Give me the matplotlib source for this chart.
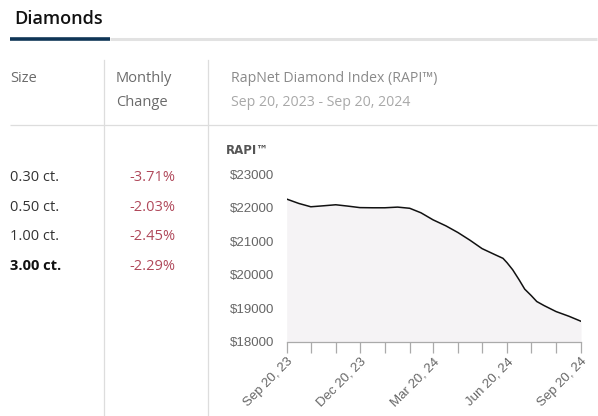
import numpy as np
import matplotlib
matplotlib.use("Agg")
import matplotlib.pyplot as plt
import matplotlib.dates as mdates
from matplotlib.lines import Line2D

# data
sizes = ["0.30 ct.", "0.50 ct.", "1.00 ct.", "3.00 ct."]
monthly_change = ["-3.71%", "-2.03%", "-2.45%", "-2.29%"]

rapi_dates = ["2023-09-20", "2023-10-05", "2023-10-20", "2023-11-05", "2023-11-20",
              "2023-12-05", "2023-12-20", "2024-01-05", "2024-01-20", "2024-02-05",
              "2024-02-20", "2024-03-05", "2024-03-20", "2024-04-05", "2024-04-20",
              "2024-05-05", "2024-05-20", "2024-06-05", "2024-06-15", "2024-06-20",
              "2024-06-27", "2024-07-05", "2024-07-12", "2024-07-20", "2024-07-27",
              "2024-08-05", "2024-08-20", "2024-09-05", "2024-09-20"]
rapi_values = [22260, 22130, 22030, 22060, 22090,
               22050, 22005, 22000, 22000, 22020,
               21985, 21850, 21640, 21460, 21260,
               21030, 20780, 20600, 20490, 20360,
               20150, 19850, 19570, 19380, 19200,
               19080, 18900, 18760, 18610]

tick_dates = ["2023-09-20", "2023-12-20", "2024-03-20", "2024-06-20", "2024-09-20"]
tick_labels = ["Sep 20, 23", "Dec 20, 23", "Mar 20, 24", "Jun 20, 24", "Sep 20, 24"]
minor_dates = ["2023-10-20", "2023-11-20", "2024-01-20", "2024-02-20", "2024-04-20",
               "2024-05-20", "2024-07-20", "2024-08-20"]
y_ticks = [18000, 19000, 20000, 21000, 22000, 23000]

W, H = 598, 416
fig = plt.figure(figsize=(W / 100, H / 100), dpi=100)
fig.patch.set_facecolor("white")

ui_font = "Open Sans"
chart_font = "Liberation Sans"


def fx(x):
    return x / W


def fy(y):
    return 1 - y / H


def ty(y):
    # text centres sit a touch low in the reference
    return fy(y + 1.5)


def hline(x0, x1, y, color, lw):
    fig.add_artist(Line2D([fx(x0), fx(x1)], [fy(y), fy(y)], color=color, lw=lw,
                          transform=fig.transFigure, solid_capstyle="butt"))


def vline(x, y0, y1, color, lw):
    fig.add_artist(Line2D([fx(x), fx(x)], [fy(y0), fy(y1)], color=color, lw=lw,
                          transform=fig.transFigure))


# header tabs
fig.text(fx(14), ty(17), "Diamonds", fontsize=13, fontweight="semibold",
         family=ui_font, color="#111111", va="center", ha="left")
hline(110, 597, 39, "#e2e2e2", 2.2)
hline(10, 110, 39, "#0f3556", 2.6)

# table grid
vline(104.3, 60, 416, "#dddddd", 0.9)
vline(208.3, 60, 416, "#dddddd", 0.9)
hline(10, 597, 125, "#dddddd", 0.9)

# column headers
hsize = 10.5
fig.text(fx(10), ty(77), "Size", fontsize=hsize, family=ui_font, color="#6b6b6b", va="center")
fig.text(fx(116), ty(77), "Monthly", fontsize=hsize, family=ui_font, color="#6b6b6b", va="center")
fig.text(fx(116), ty(101), "Change", fontsize=hsize, family=ui_font, color="#6b6b6b", va="center")
fig.text(fx(231), ty(77), "RapNet Diamond Index (RAPI\u2122)", fontsize=10.2, family=ui_font,
         color="#8a8a8a", va="center")
fig.text(fx(231), ty(101), "Sep 20, 2023 - Sep 20, 2024", fontsize=10.2, family=ui_font,
         color="#a8a8a8", va="center")

# rows
row_y = [176, 206, 235, 265]
for i, (s, c) in enumerate(zip(sizes, monthly_change)):
    bold = i == len(sizes) - 1
    fig.text(fx(10), ty(row_y[i]), s, fontsize=hsize, family=ui_font,
             fontweight="bold" if bold else "normal",
             color="#111111" if bold else "#333333", va="center")
    fig.text(fx(175), ty(row_y[i]), c, fontsize=hsize, family=ui_font,
             color="#b0485a", va="center", ha="right")

# chart
ax = fig.add_axes([fx(286.7), 1 - 341.7 / H, (581 - 286.7) / W, (341.7 - 174.3) / H])
x = mdates.datestr2num(rapi_dates)
ax.fill_between(x, rapi_values, 18000, color="#f5f3f5", lw=0)
ax.plot(x, rapi_values, color="#111111", lw=1.1)
ax.set_xlim(mdates.datestr2num(tick_dates[0]), mdates.datestr2num(tick_dates[-1]))
ax.set_ylim(18000, 23000)
for s in ["top", "right", "left"]:
    ax.spines[s].set_visible(False)
ax.spines["bottom"].set_color("#aaaaaa")
ax.spines["bottom"].set_linewidth(0.9)

ax.set_yticks(y_ticks)
ax.set_yticklabels(["$%d" % v for v in y_ticks], family=chart_font, fontsize=9.5, color="#666666")
ax.tick_params(axis="y", length=0, pad=9)

ax.set_xticks(mdates.datestr2num(tick_dates))
ax.set_xticks(mdates.datestr2num(minor_dates), minor=True)
ax.set_xticklabels(tick_labels, rotation=45, ha="right", va="top", rotation_mode="anchor",
                   family=chart_font, fontsize=9.5, color="#666666")
ax.tick_params(axis="x", which="both", length=8, width=0.9, color="#aaaaaa", direction="out", pad=2)
ax.set_facecolor("none")

fig.text(fx(226), ty(149), "RAPI\u2122", fontsize=8.5, fontweight="bold", family="DejaVu Sans",
         color="#555555", va="center")

fig.savefig("out.png", dpi=100)
